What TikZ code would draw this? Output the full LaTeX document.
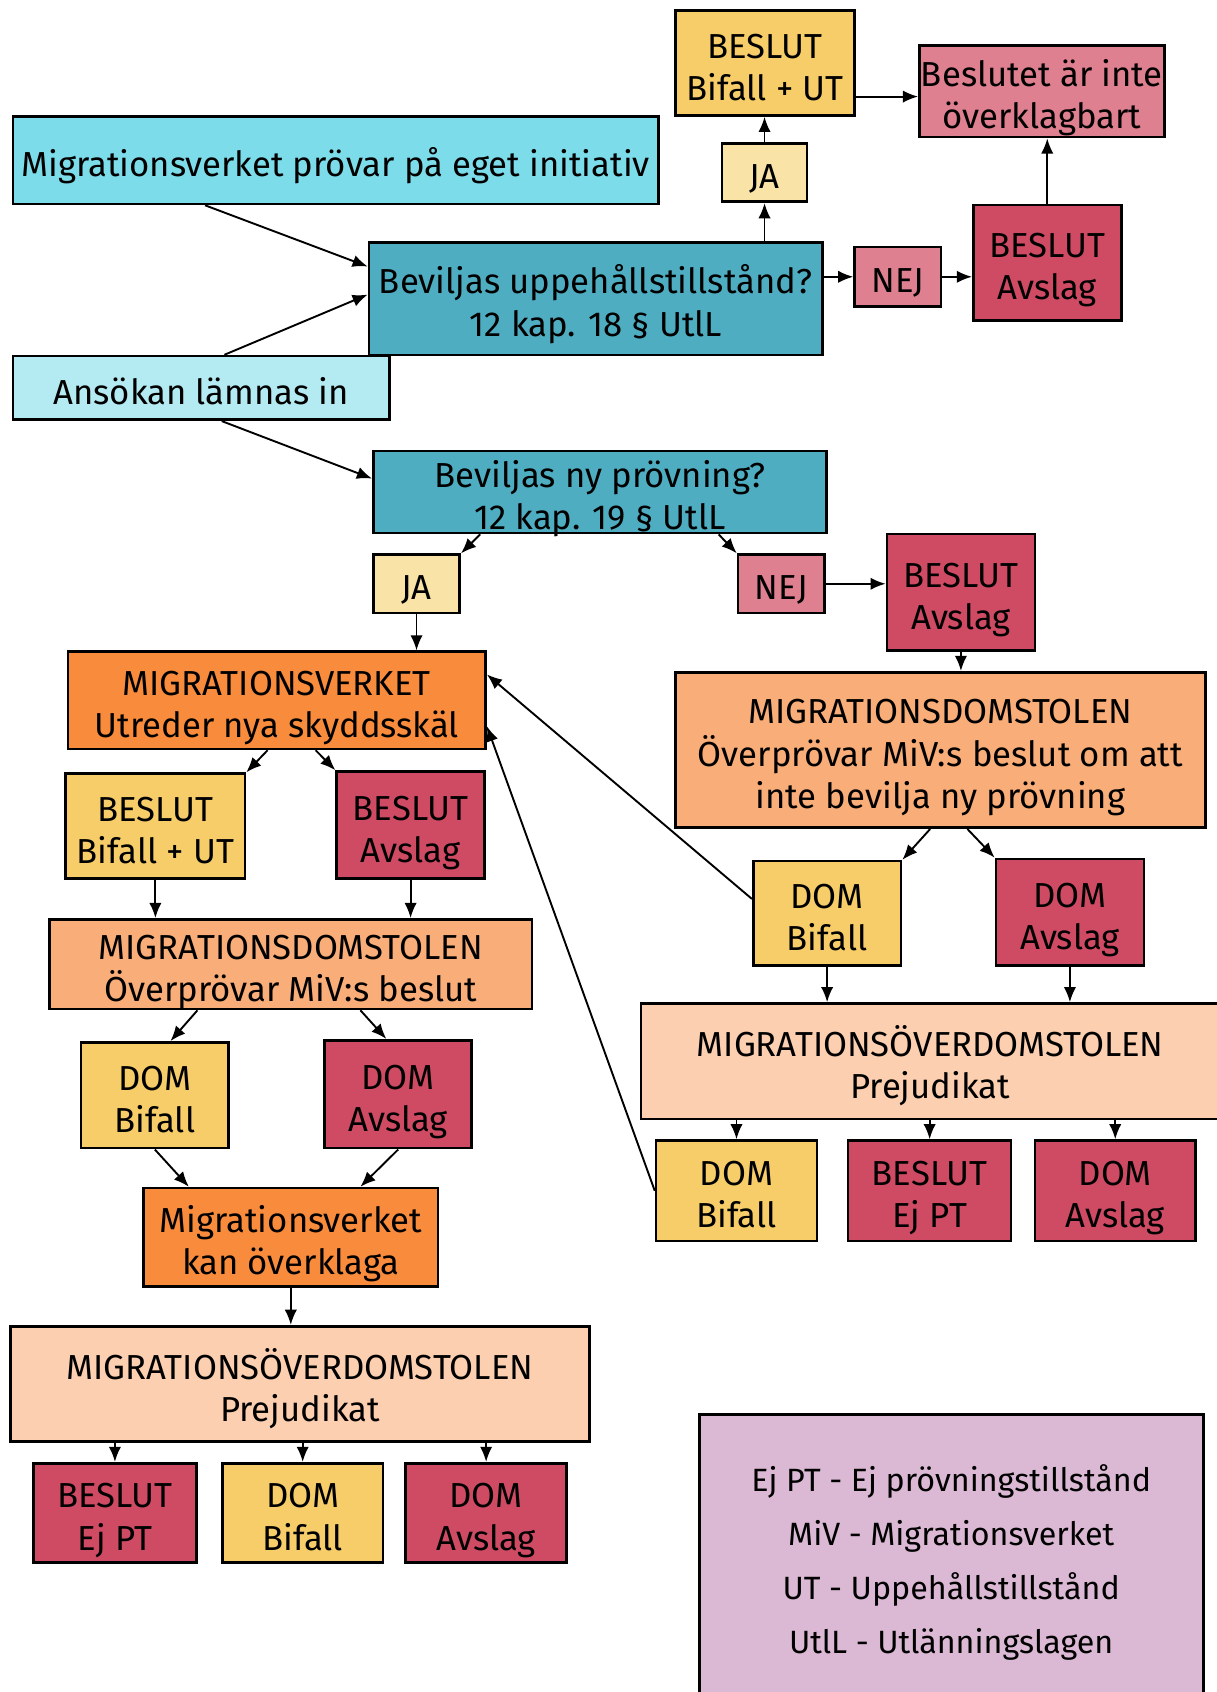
\documentclass[tikz,border=0pt]{standalone}
\usepackage{fontspec}
\setmainfont{Fira Sans}
\usetikzlibrary{arrows.meta,positioning,calc}

\definecolor{beslutgul}{HTML}{F6CD69}
\definecolor{jagul}{HTML}{F9E3A7}
\definecolor{nejrosa}{HTML}{DE808F}
\definecolor{avslagrod}{HTML}{CE4B63}
\definecolor{initcyan}{HTML}{7CDCE9}
\definecolor{ansokcyan}{HTML}{B4EAF2}
\definecolor{fragabla}{HTML}{4FADC2}
\definecolor{verkorange}{HTML}{F98C3C}
\definecolor{domstolorange}{HTML}{F9AD78}
\definecolor{overpersika}{HTML}{FCCFB0}
\definecolor{forklaringlila}{HTML}{DBB9D4}

% box=texthöjd: 17pt en rad, 39.2pt två rader, 61.4pt tre rader
\tikzset{box/.style={draw,line width=1.4pt,align=center,inner sep=0pt,text centered,
	text height=#1,text depth=0pt},
	box/.default=39.2pt}
\tikzstyle{legendbox} = [draw,line width=1.4pt,align=center,inner sep=0pt,
	font=\fontsize{17}{28.4}\selectfont]
\tikzstyle{arrow} = [line width=1pt,-{Latex[length=8pt,width=6.5pt]}]

\begin{document}
\begin{tikzpicture}[x=0.2mm,y=-0.2mm,font=\fontsize{18.3}{22.2}\selectfont]
\useasboundingbox (0,0) rectangle (1127,1568);

			% Ansökan och eget initiativ
			\node[box=17pt,fill=initcyan,minimum width=119.6mm,minimum height=16.2mm]
			at (311,148.5) (egetinit) {Migrationsverket prövar på eget initiativ};

			\node[box,fill=fragabla,minimum width=84mm,minimum height=20.8mm]
			at (552,277) (ut) {Beviljas uppehållstillstånd? \\ 12 kap. 18 § UtlL};

			\node[box=17pt,fill=ansokcyan,minimum width=69.8mm,minimum height=11.8mm]
			at (186.5,359.5) (ansokan) {Ansökan lämnas in};

			\node[box=17pt,fill=jagul,minimum width=15.8mm,minimum height=10.8mm]
			at (708.5,160) (ja1) {JA};

			\node[box,fill=beslutgul,minimum width=33.2mm,minimum height=19.4mm]
			at (709,58.5) (bifallut1) {BESLUT \\ Bifall + UT};

			\node[box,fill=nejrosa,minimum width=45.4mm,minimum height=17mm]
			at (965.5,84.5) (ejoverk) {Beslutet är inte \\ överklagbart};

			\node[box=17pt,fill=nejrosa,minimum width=16mm,minimum height=11mm]
			at (832,256.5) (nej1) {NEJ};

			\node[box,fill=avslagrod,minimum width=27.4mm,minimum height=21.4mm]
			at (970.5,243.5) (avslag1) {BESLUT \\ Avslag};

			% Ny prövning
			\node[box,fill=fragabla,minimum width=84mm,minimum height=15.2mm]
			at (556,456) (nyprov) {Beviljas ny prövning? \\ 12 kap. 19 § UtlL};

			\node[box=17pt,fill=jagul,minimum width=16mm,minimum height=10.8mm]
			at (386,541) (ja2) {JA};

			\node[box=17pt,fill=nejrosa,minimum width=16mm,minimum height=10.8mm]
			at (724,541) (nej2) {NEJ};

			\node[box,fill=avslagrod,minimum width=27.4mm,minimum height=21.6mm]
			at (890.5,549) (avslag2) {BESLUT \\ Avslag};

			\node[box,fill=verkorange,minimum width=77.4mm,minimum height=18mm]
			at (256.5,649) (miv) {MIGRATIONSVERKET \\ Utreder nya skyddsskäl};

			\node[box=61.4pt,fill=domstolorange,minimum width=98.2mm,minimum height=28.8mm]
			at (871.5,695) (mds1) {MIGRATIONSDOMSTOLEN \\ Överprövar MiV:s beslut om att \\ inte bevilja ny prövning};

			% Vänstra grenen
			\node[box,fill=beslutgul,minimum width=33.2mm,minimum height=19.4mm]
			at (144,765.5) (bifallut2) {BESLUT \\ Bifall + UT};

			\node[box,fill=avslagrod,minimum width=27.4mm,minimum height=19.8mm]
			at (380.5,764.5) (avslag3) {BESLUT \\ Avslag};

			\node[box,fill=domstolorange,minimum width=89.4mm,minimum height=16.6mm]
			at (269.5,893.5) (mds2) {MIGRATIONSDOMSTOLEN \\ Överprövar MiV:s beslut};

			\node[box,fill=beslutgul,minimum width=27.4mm,minimum height=19.6mm]
			at (143.5,1015) (dombifall3) {DOM \\ Bifall};

			\node[box,fill=avslagrod,minimum width=27.2mm,minimum height=20mm]
			at (369,1014) (domavslag3) {DOM \\ Avslag};

			\node[box,fill=verkorange,minimum width=54.6mm,minimum height=18.2mm]
			at (269.5,1146.5) (overklaga) {Migrationsverket \\ kan överklaga};

			\node[box,fill=overpersika,minimum width=107.2mm,minimum height=21.4mm]
			at (278,1282.5) (mod2) {MIGRATIONSÖVERDOMSTOLEN \\ Prejudikat};

			\node[box,fill=avslagrod,minimum width=30.2mm,minimum height=18.4mm]
			at (106.5,1402) (ejpt2) {BESLUT \\ Ej PT};

			\node[box,fill=beslutgul,minimum width=29.8mm,minimum height=18.4mm]
			at (280.5,1402) (dombifall4) {DOM \\ Bifall};

			\node[box,fill=avslagrod,minimum width=29.8mm,minimum height=18.4mm]
			at (450.5,1402) (domavslag4) {DOM \\ Avslag};

			% Högra grenen
			\node[box,fill=beslutgul,minimum width=27.4mm,minimum height=19.4mm]
			at (766.5,846.5) (dombifall1) {DOM \\ Bifall};

			\node[box,fill=avslagrod,minimum width=27.4mm,minimum height=19.8mm]
			at (991.5,845.5) (domavslag1) {DOM \\ Avslag};

			\node[box,fill=overpersika,minimum width=107.2mm,minimum height=21.4mm]
			at (862,983.5) (mod1) {MIGRATIONSÖVERDOMSTOLEN \\ Prejudikat};

			\node[box,fill=beslutgul,minimum width=29.8mm,minimum height=18.6mm]
			at (682.5,1103.5) (dombifall2) {DOM \\ Bifall};

			\node[box,fill=avslagrod,minimum width=30.2mm,minimum height=18.6mm]
			at (861.5,1103.5) (ejpt1) {BESLUT \\ Ej PT};

			\node[box,fill=avslagrod,minimum width=29.8mm,minimum height=18.6mm]
			at (1033.5,1103.5) (domavslag2) {DOM \\ Avslag};

			% Förklaringar
			\node[legendbox,fill=forklaringlila,minimum width=93.4mm,minimum height=54.8mm]
			at (881.5,1448) (forklaring) {Ej PT - Ej prövningstillstånd \\ MiV - Migrationsverket \\
			UT - Uppehållstillstånd \\ UtlL - Utlänningslagen};

			% Arrows
			\draw[arrow] ([xshift=-24.2mm]egetinit.south) -- ([yshift=6mm]ut.west);
			\draw[arrow] ([xshift=4.3mm]ansokan.north) -- ([yshift=0.8mm]ut.west);
			\draw[arrow] ([xshift=3.8mm]ansokan.south) -- ([yshift=2.5mm]nyprov.west);
			\draw[arrow] (ut.north -| ja1) -- (ja1.south);
			\draw[arrow] (ja1.north) -- (ja1.north |- bifallut1.south);
			\draw[arrow] ([yshift=-6.2mm]bifallut1.east) -- ([yshift=-6.2mm]bifallut1.east -| ejoverk.west);
			\draw[arrow] (ut.east |- nej1) -- (nej1.west);
			\draw[arrow] (nej1.east) -- (nej1.east -| avslag1.west);
			\draw[arrow] (avslag1.north) -- (avslag1.north |- ejoverk.south);

			\draw[arrow] ([xshift=-22.2mm]nyprov.south) -- (ja2.north east);
			\draw[arrow] ([xshift=22mm]nyprov.south) -- (nej2.north west);
			\draw[arrow] (nej2.east) -- (nej2.east -| avslag2.west);
			\draw[arrow] (avslag2.south) -- (avslag2.south |- mds1.north);
			\draw[arrow] (ja2.south) -- (ja2.south |- miv.north);

			\draw[arrow] ([xshift=-1.7mm]miv.south) -- (bifallut2.north east);
			\draw[arrow] ([xshift=7.2mm]miv.south) -- (avslag3.north west);
			\draw[arrow] (bifallut2.south) -- (bifallut2.south |- mds2.north);
			\draw[arrow] (avslag3.south) -- (avslag3.south |- mds2.north);
			\draw[arrow] ([xshift=-17.3mm]mds2.south) -- ([xshift=2.9mm]dombifall3.north);
			\draw[arrow] ([xshift=12.9mm]mds2.south) -- ([xshift=-2.2mm]domavslag3.north);
			\draw[arrow] (dombifall3.south) -- ([xshift=-18.9mm]overklaga.north);
			\draw[arrow] (domavslag3.south) -- ([xshift=12.9mm]overklaga.north);
			\draw[arrow] (overklaga.south) -- (overklaga.south |- mod2.north);
			\foreach \n in {ejpt2,dombifall4,domavslag4}
				\draw[arrow] (\n.north |- mod2.south) -- (\n.north);

			\draw[arrow] ([xshift=-1.9mm]mds1.south) -- (dombifall1.north east);
			\draw[arrow] ([xshift=5mm]mds1.south) -- (domavslag1.north west);
			\draw[arrow] ([yshift=2.7mm]dombifall1.west) -- ([yshift=4.8mm]miv.east);
			\draw[arrow] (dombifall2.west) -- ([yshift=-4.8mm]miv.east);
			\draw[arrow] (dombifall1.south) -- (dombifall1.south |- mod1.north);
			\draw[arrow] (domavslag1.south) -- (domavslag1.south |- mod1.north);
			\foreach \n in {dombifall2,ejpt1,domavslag2}
				\draw[arrow] (\n.north |- mod1.south) -- (\n.north);
		\end{tikzpicture}
\end{document}
